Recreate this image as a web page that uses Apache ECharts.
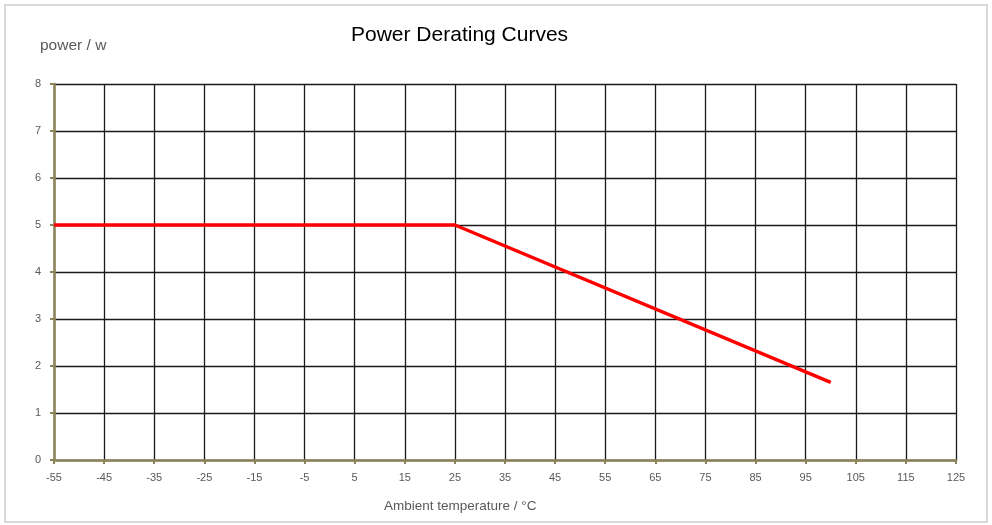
<!DOCTYPE html>
<html>
<head>
<meta charset="utf-8">
<script src="https://cdn.jsdelivr.net/npm/echarts@6/dist/echarts.min.js"></script>
<style>html,body{margin:0;padding:0;background:#fff;}#c{width:992px;height:525px;}</style>
</head>
<body>
<div id="c"></div>
<script>
// Data
var temperatures = [-55, 25, 100];
var powerValues = [5, 5, 1.65];
var xTicks = [-55, -45, -35, -25, -15, -5, 5, 15, 25, 35, 45, 55, 65, 75, 85, 95, 105, 115, 125];
var yTicks = [0, 1, 2, 3, 4, 5, 6, 7, 8];
var titleText = 'Power Derating Curves';
var yName = 'power / w';
var xName = 'Ambient temperature / °C';

var seriesData = temperatures.map(function (t, i) { return [t, powerValues[i]]; });

var chart = echarts.init(document.getElementById('c'), null, {renderer: 'canvas'});
var axisColor = '#8c8459';
var labelColor = '#595959';
chart.setOption({
  animation: false,
  backgroundColor: '#fff',
  title: {
    text: titleText, left: 351, top: 25, padding: 0,
    textStyle: {fontFamily: 'Liberation Sans, Arial', fontSize: 21, fontWeight: 'normal', color: '#000'}
  },
  graphic: [
    {type: 'rect', shape: {x: 5, y: 5, width: 982, height: 517}, style: {fill: 'none', stroke: '#d9d9d9', lineWidth: 2}, silent: true},
    {type: 'text', left: 40, top: 38, style: {text: yName, font: '15.5px "Liberation Sans", Arial', fill: labelColor}},
    {type: 'text', left: 384, top: 499, style: {text: xName, font: '13.5px "Liberation Sans", Arial', fill: labelColor}}
  ],
  grid: {left: 54, right: 36, top: 84, bottom: 65, containLabel: false},
  xAxis: {
    type: 'value', min: xTicks[0], max: xTicks[xTicks.length - 1], interval: 10,
    axisLine: {show: true, onZero: false, lineStyle: {color: axisColor, width: 2.5}},
    axisTick: {show: true, length: 4, lineStyle: {color: axisColor, width: 2}},
    axisLabel: {color: labelColor, fontSize: 11, fontFamily: 'Liberation Sans, Arial', margin: 12, showMinLabel: true, showMaxLabel: true},
    splitLine: {show: true, lineStyle: {color: '#1a1a1a', width: 1.3}}
  },
  yAxis: {
    type: 'value', min: yTicks[0], max: yTicks[yTicks.length - 1], interval: 1,
    axisLine: {show: true, onZero: false, lineStyle: {color: axisColor, width: 2.5}},
    axisTick: {show: true, length: 4, lineStyle: {color: axisColor, width: 2}},
    axisLabel: {color: labelColor, fontSize: 11, fontFamily: 'Liberation Sans, Arial', margin: 13},
    splitLine: {show: true, lineStyle: {color: '#1a1a1a', width: 1.3}}
  },
  series: [{
    type: 'line', data: seriesData, showSymbol: false, symbol: 'none',
    lineStyle: {color: '#ff0000', width: 3.5}, z: 5
  }]
});
</script>
</body>
</html>
